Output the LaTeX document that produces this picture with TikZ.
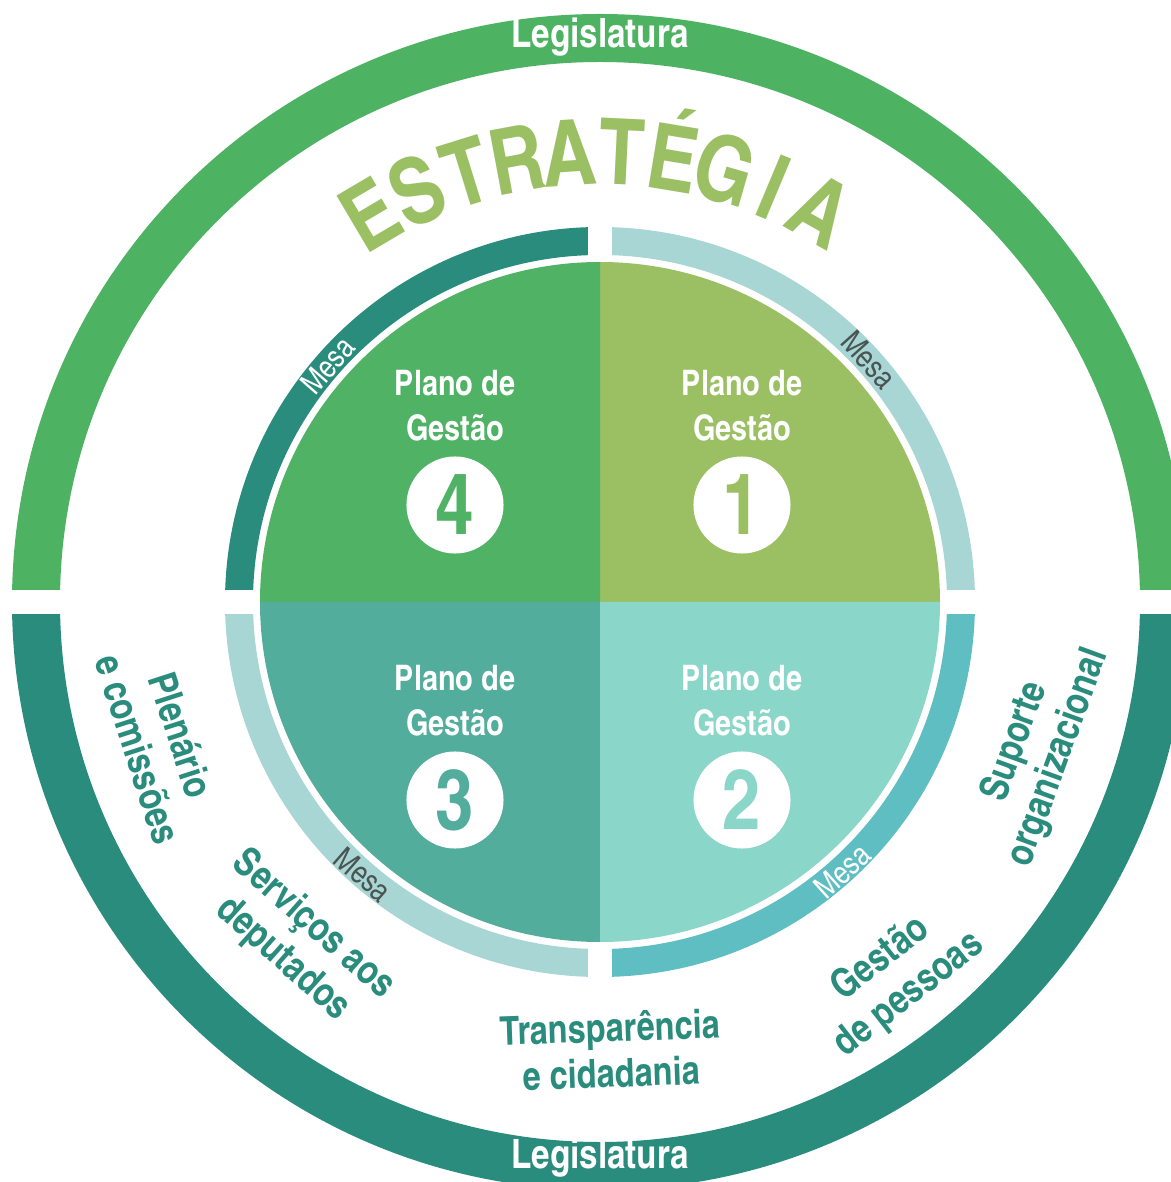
\documentclass[tikz,border=0pt]{standalone}
\usepackage{fontspec}
\newfontfamily\condfont{texgyreheroscn}[Extension=.otf, UprightFont=*-regular, BoldFont=*-bold]
\usetikzlibrary{calc}

\definecolor{legGreen}{HTML}{4EB263}
\definecolor{legTeal}{HTML}{2A8C7C}
\definecolor{qOne}{HTML}{9BC064}
\definecolor{qTwo}{HTML}{8AD6C8}
\definecolor{qThree}{HTML}{52AD9C}
\definecolor{qFour}{HTML}{4FB265}
\definecolor{mesaDark}{HTML}{2A8C7C}
\definecolor{mesaLight}{HTML}{A8D6D4}
\definecolor{mesaMid}{HTML}{5FBEC2}
\definecolor{mesaGray}{HTML}{4A5452}

\begin{document}
\begin{tikzpicture}[x=0.01cm, y=0.01cm,
  plano/.style={text=white, align=center, inner sep=0pt,
                font=\condfont\bfseries\fontsize{10}{12.8}\selectfont},
  numcirc/.style={circle, fill=white, minimum size=0.97cm, inner sep=0pt,
                  font=\condfont\bfseries\fontsize{24}{24}\selectfont},
  area/.style={text=legTeal, align=center, inner sep=0pt,
               font=\condfont\bfseries\fontsize{11.3}{13}\selectfont},
  mesa/.style={inner sep=0pt, font=\condfont\fontsize{9}{9}\selectfont},
  leg/.style={text=white, inner sep=0pt,
              font=\condfont\bfseries\fontsize{11.5}{11.5}\selectfont},
  estr/.style={text=qOne, inner sep=0pt, text height=18.5pt, text depth=0pt,
               font=\condfont\bfseries\fontsize{26}{26}\selectfont}]

\useasboundingbox (-600,-580) rectangle (571,602);
\clip (-600,-580) rectangle (571,602);

% -----------------------------------------------------
%  Legislatura ring (outer)
% -----------------------------------------------------
\fill[legGreen] (588,0) arc[start angle=0, end angle=180, radius=588]
  -- (-540,0) arc[start angle=180, end angle=0, radius=540] -- cycle;
\fill[legTeal] (588,0) arc[start angle=0, end angle=-180, radius=588]
  -- (-540,0) arc[start angle=180, end angle=360, radius=540] -- cycle;

% -----------------------------------------------------
%  Mesa ring (one arc per plan)
% -----------------------------------------------------
\foreach \a/\c in {0/mesaLight, 90/mesaDark, 180/mesaLight, 270/mesaMid}{
  \fill[\c] (\a:375) arc[start angle=\a, end angle={\a+90}, radius=375]
    -- ({\a+90}:347) arc[start angle={\a+90}, end angle=\a, radius=347] -- cycle;
}

% white cuts between the arcs
\fill[white] (-600,-12) rectangle (600,12);
\fill[white] (-12,300) rectangle (12,400);
\fill[white] (-12,-400) rectangle (12,-300);

% -----------------------------------------------------
%  Quadrants
% -----------------------------------------------------
\foreach \a/\c in {0/qOne, 90/qFour, 180/qThree, 270/qTwo}{
  \fill[\c] (0,0) -- (\a:340) arc[start angle=\a, end angle={\a+90}, radius=340] -- cycle;
}

\foreach \n/\x/\y/\c in {1/142/0/qOne, 2/142/-295/qTwo, 3/-145/-295/qThree, 4/-145/0/qFour}{
  \node[plano] (plan\n) at (\x,196+\y) {Plano de\\Gestão};
  \node[numcirc, text=\c] (num\n) at (\x,97+\y) {\n};
}

% Mesa labels
\node[mesa, text=white, rotate=49] (mesa4) at (139:361) {Mesa};
\node[mesa, text=mesaGray, rotate=-48] (mesa1) at (42:362) {Mesa};
\node[mesa, text=mesaGray, rotate=-41] (mesa3) at (229:361) {Mesa};
\node[mesa, text=white, rotate=42] (mesa2) at (-48:362) {Mesa};

% -----------------------------------------------------
%  Titles on the rings
% -----------------------------------------------------
\foreach \l [count=\k from 0] in {E,S,T,R,A,T,É,G,I,A}{
  \pgfmathsetmacro{\a}{120.6-\k*6.67}
  \node[estr, rotate={\a-90}] (est\k) at (\a:450) {\l};
}

\node[leg] (legTop) at (0,565) {Legislatura};
\node[leg] (legBot) at (0,-556) {Legislatura};

% Areas
\node[area, rotate=-72] (plen) at (-440,-140) {Plenário\\e comissões};
\node[area, rotate=-41.6] (serv) at (-302,-340) {Serviços aos\\deputados};
\node[area, rotate=2] (transp) at (11,-448) {Transparência\\e cidadania};
\node[area, rotate=38] (gest) at (295,-375) {Gestão\\de pessoas};
\node[area, rotate=70] (sup) at (437,-148) {Suporte\\organizacional};

\end{tikzpicture}
\end{document}
